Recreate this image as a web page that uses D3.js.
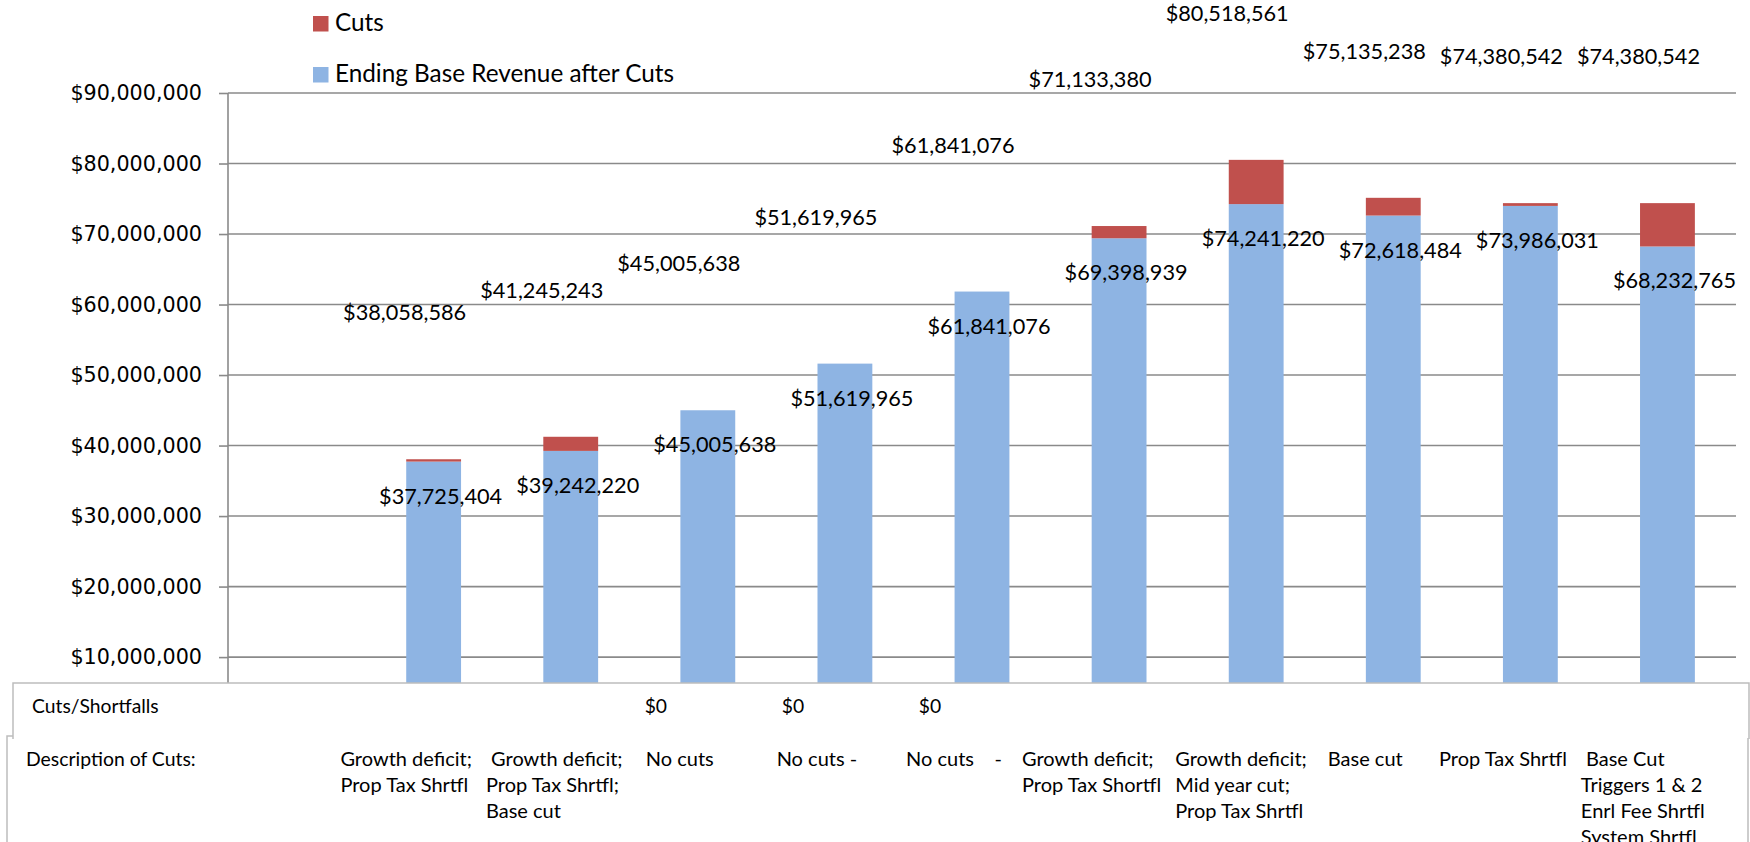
<!DOCTYPE html>
<html>
<head>
  <meta charset="UTF-8">
  <style>
    body { margin: 0; background: white; }
    svg { display: block; }
    .lbl { font-family: Lato, "Open Sans", sans-serif; fill: black; }
    .axis text { font-family: "DejaVu Sans", Verdana, sans-serif; font-size: 20.7px; fill: black; }
  </style>
</head>
<body>
<svg></svg>
<script src="https://d3js.org/d3.v7.min.js"></script>
<script>

let width = 1750, height = 842;

// values
let baseRevenue = [37725404, 39242220, 45005638, 51619965, 61841076, 69398939, 74241220, 72618484, 73986031, 68232765];
let cuts = [333182, 2003023, 0, 0, 0, 1734441, 6277341, 2516754, 394511, 6147777];
let totals = [38058586, 41245243, 45005638, 51619965, 61841076, 71133380, 80518561, 75135238, 74380542, 74380542];
let descriptions = [
  ["Growth deficit;", "Prop Tax Shrtfl"],
  [" Growth deficit;", "Prop Tax Shrtfl;", "Base cut"],
  ["No cuts"],
  ["No cuts -"],
  ["No cuts    -"],
  ["Growth deficit;", "Prop Tax Shortfl"],
  ["Growth deficit;", "Mid year cut;", "Prop Tax Shrtfl"],
  ["Base cut"],
  ["Prop Tax Shrtfl"],
  [" Base Cut", "Triggers 1 & 2", "Enrl Fee Shrtfl", "System Shrtfl"]
];
let yTicks = [0, 10e6, 20e6, 30e6, 40e6, 50e6, 60e6, 70e6, 80e6, 90e6];
let seriesNames = ["Cuts", "Ending Base Revenue after Cuts"];
let colors = {"Cuts": "#C0504D", "Ending Base Revenue after Cuts": "#8EB4E3"};

let svg = d3.select("svg")
    .attr("width", width)
    .attr("height", height);

svg.append("rect").attr("width", width).attr("height", height).attr("fill", "white");

let plotLeft = 228, plotRight = 1736;

// first band is left empty (it sits over the table's row headers)
let x = d3.scaleBand()
    .domain(d3.range(baseRevenue.length + 1))
    .range([plotLeft, plotRight])
    .paddingInner(0.6)
    .paddingOuter(0.3);

let y = d3.scaleLinear()
    .domain([0, 90e6])
    .range([727.6, 93]);

let fmt = d3.format("$,.0f");
let cx = i => x(i + 1) + x.bandwidth() / 2;

// gridlines
svg.append("g")
  .selectAll("line")
  .data(yTicks)
  .enter()
  .append("line")
  .attr("x1", plotLeft)
  .attr("x2", plotRight)
  .attr("y1", d => y(d))
  .attr("y2", d => y(d))
  .attr("stroke", "#8a8a8a")
  .attr("stroke-width", 1.6);

// stacked bars
let stackData = baseRevenue.map((b, i) => ({idx: i, base: b, cut: cuts[i]}));
let stacked = d3.stack().keys(["base", "cut"])(stackData);

svg.append("g")
  .selectAll("g")
  .data(stacked)
  .enter()
  .append("g")
  .attr("fill", s => s.key == "base" ? colors[seriesNames[1]] : colors[seriesNames[0]])
  .selectAll("rect")
  .data(s => s)
  .enter()
  .append("rect")
  .attr("x", d => x(d.data.idx + 1))
  .attr("width", x.bandwidth())
  .attr("y", d => y(d[1]))
  .attr("height", d => y(d[0]) - y(d[1]));

// y axis
let axis = d3.axisLeft(y)
    .tickValues(yTicks)
    .tickSize(9)
    .tickPadding(17)
    .tickFormat(fmt);

let ax = svg.append("g")
    .attr("class", "axis")
    .attr("transform", `translate(${plotLeft},0)`)
    .call(axis);
ax.select(".domain").remove();
ax.selectAll(".tick line").attr("stroke", "#8a8a8a").attr("stroke-width", 1.6);
svg.append("line")
  .attr("x1", plotLeft).attr("x2", plotLeft)
  .attr("y1", y(90e6)).attr("y2", y(0))
  .attr("stroke", "#8a8a8a")
  .attr("stroke-width", 1.6);

// labels: base value inside the bar, total floating above
svg.append("g")
  .selectAll("text")
  .data(baseRevenue)
  .enter()
  .append("text")
  .attr("class", "lbl")
  .attr("x", (d, i) => cx(i) + 7)
  .attr("y", d => y(d) + 42)
  .attr("text-anchor", "middle")
  .style("font-size", "21.7px")
  .text(d => fmt(d));

svg.append("g")
  .selectAll("text")
  .data(totals)
  .enter()
  .append("text")
  .attr("class", "lbl")
  .attr("x", (d, i) => cx(i) - 29)
  .attr("y", d => y(d) - 139)
  .attr("text-anchor", "middle")
  .style("font-size", "21.7px")
  .text(d => fmt(d));

// data table under the chart
let table = svg.append("g");
table.append("rect")
  .attr("x", 7).attr("y", 736)
  .attr("width", 1741).attr("height", 200)
  .attr("fill", "white")
  .attr("stroke", "#bdbdbd")
  .attr("stroke-width", 1.5);
table.append("rect")
  .attr("x", 13).attr("y", 683)
  .attr("width", 1736).attr("height", 55)
  .attr("fill", "white");
table.append("path")
  .attr("d", "M13,739V683H1749V739")
  .attr("fill", "none")
  .attr("stroke", "#bdbdbd")
  .attr("stroke-width", 1.5);

table.append("text")
  .attr("class", "lbl")
  .attr("x", 32).attr("y", 713)
  .style("font-size", "19.3px")
  .text("Cuts/Shortfalls");

table.append("text")
  .attr("class", "lbl")
  .attr("x", 26).attr("y", 766)
  .style("font-size", "19.4px")
  .text("Description of Cuts:");

table.append("g")
  .selectAll("text")
  .data(cuts.map((c, i) => ({c: c, i: i})).filter(d => d.c == 0))
  .enter()
  .append("text")
  .attr("class", "lbl")
  .attr("x", d => cx(d.i) - 52)
  .attr("y", 713)
  .attr("text-anchor", "middle")
  .style("font-size", "19.3px")
  .text(d => fmt(d.c));

// description blocks: lines left-aligned, block centred a little left of its bar
let desc = table.append("g")
  .selectAll("text")
  .data(descriptions)
  .enter()
  .append("text")
  .attr("class", "lbl")
  .attr("xml:space", "preserve")
  .style("white-space", "pre")
  .style("font-size", "20px");

desc.selectAll("tspan")
  .data((d, i) => d.map(t => ({t: t, i: i})))
  .enter()
  .append("tspan")
  .attr("y", (d, j) => 766 + j * 26)
  .text(d => d.t);

let widths = [], lefts = [];
desc.each(function(d, i) {
  let w = d3.max(d3.select(this).selectAll("tspan").nodes(), n => n.getComputedTextLength());
  widths.push(w);
  lefts.push(Math.max(cx(i) - 89, cx(i) - 28 - w / 2));
});
// push neighbours apart where blocks would touch
for (let i = 1; i < lefts.length; i++) {
  let overlap = lefts[i - 1] + widths[i - 1] + 14 - lefts[i];
  if (overlap > 0) {
    lefts[i - 1] -= overlap / 2;
    lefts[i] += overlap / 2;
  }
}
desc.each(function(d, i) {
  d3.select(this).selectAll("tspan").attr("x", lefts[i]);
});

// legend
let legend = svg.append("g")
  .selectAll("g")
  .data(seriesNames)
  .enter()
  .append("g")
  .attr("transform", (d, i) => `translate(313,${16 + i * 51})`);

legend.append("rect")
  .attr("width", 15.5)
  .attr("height", 15.5)
  .attr("fill", d => colors[d]);

legend.append("text")
  .attr("class", "lbl")
  .attr("x", 22)
  .attr("y", 14.5)
  .style("font-size", "24.3px")
  .text(d => d);

</script>
</body>
</html>
